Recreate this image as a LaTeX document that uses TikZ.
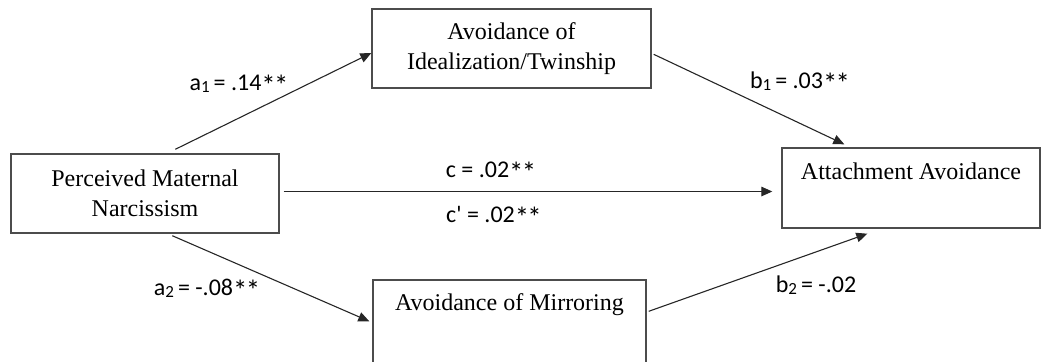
\documentclass[tikz,border=0pt]{standalone}
\usepackage{fontspec}
\usepackage{graphicx}
\setmainfont{Liberation Serif}
\newfontfamily\labfont{Carlito}
\usetikzlibrary{arrows.meta}
\newcommand{\sbs}[1]{{\fontsize{8.5}{8.5}\selectfont\raisebox{-0.35ex}{#1}}}
\newcommand{\twoast}{\raisebox{-0.5ex}{\scalebox{1.2}{*\kern-0.06em*}}}
\tikzset{
  boxnode/.style={draw=black!70, line width=0.7pt, inner sep=0pt, align=center,
    font=\fontsize{12}{15}\selectfont},
  labnode/.style={font=\labfont\fontsize{12}{14}\selectfont, inner sep=0pt, anchor=base},
  conn/.style={draw=black!85, line width=0.55pt, -{Triangle[length=5.5pt,width=4.8pt]}}
}
\begin{document}
\begin{tikzpicture}[x=0.5pt,y=-0.5pt]
\useasboundingbox (0,0) rectangle (1043,361);
% boxes
\node[boxnode, minimum width=139.5pt, minimum height=39.5pt] (T) at (511.5,48.5)
  {Avoidance of\\Idealization/Twinship};
\node[boxnode, minimum width=134pt, minimum height=39.5pt] (L) at (145,193.5)
  {Perceived Maternal\\Narcissism};
\node[boxnode, anchor=base, minimum width=129pt, text height=15.5pt, text depth=24.5pt] (R) at (911,179)
  {Attachment Avoidance};
\node[boxnode, anchor=base, minimum width=136.5pt, text height=15pt, text depth=32pt] (M) at (509.5,310)
  {Avoidance of Mirroring};
% connectors
\coordinate (cs) at ([shift={(4,-2)}]L.east);
\draw[conn] ([shift={(165,-4)}]L.north west) -- ([shift={(0,4.5)}]T.west);
\draw[conn] ([shift={(2,46)}]T.north east) -- ([shift={(63,-3)}]R.north west);
\draw[conn] (cs) -- ([xshift=-4.5pt]R.west |- cs);
\draw[conn] ([shift={(162,2)}]L.south west) -- ([shift={(-3,42)}]M.north west);
\draw[conn] ([shift={(2,32)}]M.north east) -- ([shift={(86,5)}]R.south west);
% labels
\node[labnode] (la1) at (239,90) {a\sbs{1}\,= .14\twoast};
\node[labnode] (lb1) at (800,88) {b\sbs{1}\,= .03\twoast};
\node[labnode] (lc) at (491,177) {c = .02\twoast};
\node[labnode] (lcp) at (494,222) {c' = .02\twoast};
\node[labnode] (la2) at (207,295) {a\sbs{2}\,= -.08\twoast};
\node[labnode] (lb2) at (816,292) {b\sbs{2}\,= -.02};
\end{tikzpicture}
\end{document}
